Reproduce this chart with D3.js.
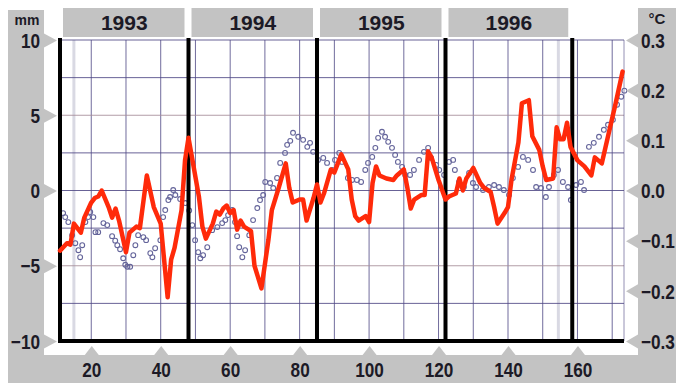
<!DOCTYPE html>
<html>
<head>
<meta charset="utf-8">
<script src="https://cdn.jsdelivr.net/npm/d3@7"></script>
<style>
  body { margin: 0; background: #fff; }
  svg { display: block; }
  .tick text { font-family: "Liberation Sans", Arial, sans-serif; font-weight: bold; fill: #1c1a26; }
</style>
</head>
<body>
<div id="chart"></div>
<script>
// chart values
const yearLabels = ["1993", "1994", "1995", "1996"];
const yearBreaks = [11, 48, 85, 122, 158.5];   // cycle numbers where each year starts
const mmTicks = [-10, -5, 0, 5, 10];
const degTicks = [-0.3, -0.2, -0.1, 0, 0.1, 0.2, 0.3];
const cycleTicks = [20, 40, 60, 80, 100, 120, 140, 160];

// sea level (mm), red line
const seaCycle = [11,13,14,15,17,18,20,21,22,23,25,26,27,28,30,31,33,34,36,38,
  40,42,43,44,46,47,48,49,51,52,53,55,56,57,58,59,60,61,62,63,
  64,66,67,69,71,72,74,76,77,78,80,81,82,84,85,86,87,89,90,91,
  92,94,95,96,97,99,100,101,102,103,105,107,108,110,111,112,113,115,116,117,
  118,120,122,123,125,126,127,128,130,132,133,135,136,137,139,140,141,143,144,146,
  147,149,150,151,153,154,155,156,157,158,160,162,164,165,167,169,171,173];
const seaLevel = [-4.0,-3.5,-3.6,-2.2,-2.8,-1.8,-0.8,-0.5,-0.4,0.0,-1.1,-1.8,-1.2,-2.0,-4.1,-2.8,-2.4,-2.5,1.0,-1.1,
  -2.2,-7.1,-4.6,-3.8,-1.3,2.0,3.5,2.2,-0.4,-2.4,-3.2,-2.2,-1.4,-1.6,-1.2,-1.0,-1.5,-1.3,-2.6,-2.0,
  -2.4,-2.7,-5.0,-6.5,-3.3,-1.3,0.2,1.8,0.2,-0.8,-0.6,-0.6,-2.0,-0.5,0.4,-0.8,-0.2,1.4,1.2,1.8,
  2.4,1.4,-0.6,-1.7,-2.0,-1.7,-2.1,0.5,1.6,1.0,0.8,0.7,1.0,1.4,0.2,-1.2,-0.6,-0.3,-0.3,2.6,
  2.2,0.7,-0.6,-0.4,-0.2,0.8,0.0,0.8,1.5,0.5,0.2,-0.1,-1.1,-2.2,-1.5,-1.1,0.7,3.2,5.8,6.0,
  3.6,2.7,1.6,0.7,0.8,4.2,3.4,3.4,4.5,2.9,2.0,1.6,1.0,2.2,1.8,3.8,5.8,7.9];

// temperature (°C), open circles
const sstCycle = [11.9,12.5,13.4,14.5,15.4,16.3,16.8,17.4,18.3,19.1,19.7,20.6,21.2,22.0,23.5,24.6,26.0,26.9,27.5,28.3,
  29.2,29.8,30.4,31.2,32.1,32.7,33.5,35.0,35.8,37.0,37.6,38.4,39.9,40.7,41.3,42.2,42.7,43.6,44.2,45.6,
  47.1,48.2,49.1,49.9,50.8,51.4,52.2,53.4,54.8,56.3,57.7,58.6,59.4,60.6,61.4,62.0,62.6,63.5,64.3,65.5,
  66.6,67.8,68.6,69.5,70.1,71.5,72.4,73.5,74.4,75.8,76.4,77.3,78.1,79.6,81.0,82.2,83.0,83.9,85.3,86.8,
  87.9,89.4,90.2,91.4,92.2,93.9,95.1,96.5,97.7,98.9,99.7,100.9,101.8,102.6,103.7,104.6,105.5,106.6,107.5,108.3,
  109.5,110.4,111.8,112.9,114.4,115.8,117.0,117.8,119.3,120.2,121.6,123.0,124.2,124.7,125.9,127.3,128.8,129.9,130.8,132.8,
  134.5,136.0,137.4,138.8,140.3,141.4,142.9,144.3,145.8,147.2,148.1,149.5,150.9,151.8,153.2,154.4,155.8,157.3,158.1,159.6,
  161.0,161.9,163.3,164.7,166.2,167.6,168.8,170.2,171.4,172.6,173.5];
const sstTemp = [-0.045,-0.053,-0.063,-0.089,-0.105,-0.119,-0.133,-0.109,-0.063,-0.053,-0.043,-0.053,-0.083,-0.083,-0.065,-0.069,-0.091,-0.100,-0.109,-0.117,
  -0.135,-0.148,-0.152,-0.152,-0.129,-0.109,-0.089,-0.093,-0.099,-0.125,-0.133,-0.115,-0.099,-0.053,-0.039,-0.019,-0.013,0.001,-0.009,-0.017,
  -0.025,-0.040,-0.069,-0.099,-0.123,-0.135,-0.129,-0.113,-0.079,-0.073,-0.065,-0.059,-0.049,-0.039,-0.063,-0.091,-0.113,-0.133,-0.119,-0.089,
  -0.059,-0.035,-0.019,-0.009,0.017,0.015,0.005,0.025,0.055,0.075,0.091,0.099,0.115,0.107,0.101,0.087,0.095,0.077,0.061,0.065,
  0.055,0.041,0.061,0.075,0.057,0.025,0.021,0.021,0.017,0.041,0.055,0.067,0.085,0.105,0.117,0.107,0.097,0.085,0.071,0.057,
  0.047,0.031,0.031,0.041,0.061,0.077,0.085,0.065,0.051,0.041,0.031,0.057,0.061,0.041,0.017,0.007,0.035,0.015,0.007,0.001,
  0.007,0.011,0.007,0.001,-0.009,0.025,0.047,0.067,0.061,0.041,0.007,0.005,-0.013,0.007,0.031,0.041,0.017,0.007,-0.019,0.011,
  0.017,0.001,0.087,0.095,0.107,0.121,0.131,0.141,0.171,0.187,0.199];

const width = 676, height = 383;
const plot = {left: 60, right: 624, top: 40, bottom: 341};
const panelGray = "#c3c3c3";
const gridColor = "#4d4784";
const squeeze = 0.86;   // tick digits in the original are condensed

const svg = d3.select("#chart").append("svg")
    .attr("width", width)
    .attr("height", height);

const x = d3.scaleLinear().domain([11, 173.4]).range([plot.left, plot.right]);
const y = d3.scaleLinear().domain([-10, 10]).range([plot.bottom, plot.top]);
const yT = d3.scaleLinear().domain([-0.3, 0.3]).range([plot.bottom, plot.top]);

// gray frame panels
svg.append("rect").attr("x", 8).attr("y", 10).attr("width", 36).attr("height", height - 10).attr("fill", panelGray);
svg.append("rect").attr("x", 8).attr("y", 355).attr("width", width - 8).attr("height", 28).attr("fill", panelGray);
svg.append("rect").attr("x", 638).attr("y", 8).attr("width", width - 638).attr("height", height - 8).attr("fill", panelGray);

// year header boxes
const years = yearLabels.map((t, i) => ({label: t, a: yearBreaks[i], b: yearBreaks[i + 1]}));
const hdr = svg.append("g").selectAll("g").data(years).join("g");
hdr.append("rect")
    .attr("x", d => x(d.a) + 3)
    .attr("y", 8)
    .attr("width", d => x(d.b) - x(d.a) - 7)
    .attr("height", 29)
    .attr("fill", panelGray);
hdr.append("text")
    .attr("x", d => (x(d.a) + x(d.b)) / 2)
    .attr("y", 30)
    .attr("text-anchor", "middle")
    .attr("font-family", "Liberation Sans, Arial, sans-serif")
    .attr("font-weight", "bold")
    .attr("font-size", 21)
    .attr("fill", "#1c1a26")
    .text(d => d.label);

// faint light stripes
svg.append("g").selectAll("line").data([15, 154.5]).join("line")
    .attr("x1", d => x(d)).attr("x2", d => x(d))
    .attr("y1", plot.top).attr("y2", plot.bottom)
    .attr("stroke", "#d9d9e3").attr("stroke-width", 3);

// grid
const vGrid = d3.range(20, 171, 10);
svg.append("g").selectAll("line").data(vGrid).join("line")
    .attr("x1", d => x(d)).attr("x2", d => x(d))
    .attr("y1", plot.top).attr("y2", plot.bottom)
    .attr("stroke", gridColor).attr("stroke-opacity", 0.8).attr("stroke-width", 1);
const hGrid = [-7.5, -5, -2.5, 0, 2.5, 5, 7.5, 10];
svg.append("g").selectAll("line").data(hGrid).join("line")
    .attr("x1", plot.left).attr("x2", plot.right)
    .attr("y1", d => y(d)).attr("y2", d => y(d))
    .attr("stroke", d => Math.abs(d) === 5 ? "#a58c98" : gridColor)
    .attr("stroke-opacity", 0.85).attr("stroke-width", 1);
svg.append("line")
    .attr("x1", plot.right).attr("x2", plot.right)
    .attr("y1", plot.top).attr("y2", plot.bottom)
    .attr("stroke", gridColor).attr("stroke-opacity", 0.6);

// temperature circles
svg.append("g").selectAll("circle").data(sstCycle).join("circle")
    .attr("cx", (d) => x(d))
    .attr("cy", (d, i) => yT(sstTemp[i]))
    .attr("r", 2.4)
    .attr("fill", "none")
    .attr("stroke", "#64649a")
    .attr("stroke-width", 1.1);

// year separators and bottom border
svg.append("g").selectAll("line").data(yearBreaks).join("line")
    .attr("x1", d => x(d)).attr("x2", d => x(d))
    .attr("y1", plot.top - 2).attr("y2", plot.bottom)
    .attr("stroke", "#000").attr("stroke-width", 4);
svg.append("line")
    .attr("x1", plot.left - 2).attr("x2", plot.right)
    .attr("y1", plot.bottom).attr("y2", plot.bottom)
    .attr("stroke", "#000").attr("stroke-width", 4);

// sea level line
const line = d3.line()
    .x((d) => x(d))
    .y((d, i) => y(seaLevel[i]));
svg.append("path")
    .datum(seaCycle)
    .attr("d", line)
    .attr("fill", "none")
    .attr("stroke", "#ff2a0a")
    .attr("stroke-width", 4.5)
    .attr("stroke-linejoin", "round")
    .attr("stroke-linecap", "round");

// axes with triangle pointers
function condense(sel) {
    sel.each(function() {
        const t = d3.select(this);
        t.attr("x", (+t.attr("x") || 0) / squeeze).attr("transform", `scale(${squeeze},1)`);
    });
}

const leftAxis = svg.append("g")
    .attr("transform", "translate(44,0)")
    .call(d3.axisLeft(y).tickValues(mmTicks).tickSize(0).tickPadding(4).tickFormat(d3.format("d")));
leftAxis.select(".domain").remove();
leftAxis.selectAll(".tick text").attr("font-size", 20).attr("dy", "0.36em").call(condense);
leftAxis.selectAll(".tick").insert("path", "text").attr("d", "M0,-7L13,0L0,7Z").attr("fill", panelGray);

const rightAxis = svg.append("g")
    .attr("transform", "translate(638,0)")
    .call(d3.axisRight(yT).tickValues(degTicks).tickSize(0).tickPadding(3).tickFormat(d3.format(".1f")));
rightAxis.select(".domain").remove();
rightAxis.selectAll(".tick text").attr("font-size", 20).attr("dy", "0.36em").call(condense);
rightAxis.selectAll(".tick").insert("path", "text").attr("d", "M0,-7L-12,0L0,7Z").attr("fill", panelGray);

const bottomAxis = svg.append("g")
    .attr("transform", "translate(0,355)")
    .call(d3.axisBottom(x).tickValues(cycleTicks).tickSize(0).tickPadding(8));
bottomAxis.select(".domain").remove();
bottomAxis.selectAll(".tick text").attr("font-size", 20).call(condense);
bottomAxis.selectAll(".tick").insert("path", "text").attr("d", "M-7,0L0,-9L7,0Z").attr("fill", panelGray);

// unit labels
svg.append("text").attr("x", 27).attr("y", 25).attr("text-anchor", "middle")
    .attr("font-family", "Liberation Sans, Arial, sans-serif").attr("font-weight", "bold")
    .attr("font-size", 14).attr("fill", "#1c1a26").text("mm");
svg.append("text").attr("x", 657).attr("y", 24).attr("text-anchor", "middle")
    .attr("font-family", "Liberation Sans, Arial, sans-serif").attr("font-weight", "bold")
    .attr("font-size", 15).attr("fill", "#1c1a26").text("°C");
</script>
</body>
</html>
